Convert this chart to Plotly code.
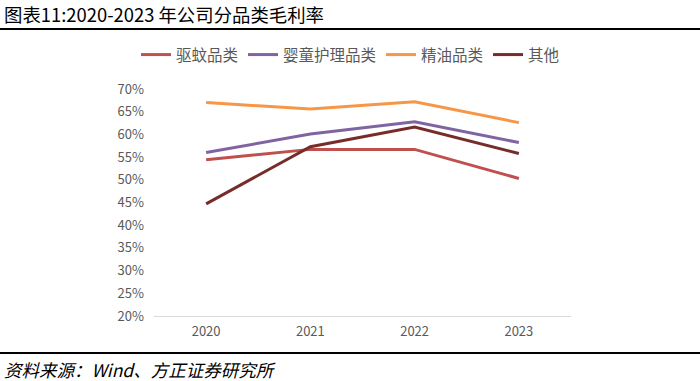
import plotly.graph_objects as go

years = ["2020", "2021", "2022", "2023"]
series_names = ["驱蚊品类", "婴童护理品类", "精油品类", "其他"]
quwen = [54.4, 56.7, 56.7, 50.3]
yingtong = [56.0, 60.1, 62.8, 58.2]
jingyou = [67.0, 65.6, 67.2, 62.6]
qita = [44.7, 57.3, 61.6, 55.8]
y_ticks = [20, 25, 30, 35, 40, 45, 50, 55, 60, 65, 70]
y_tick_labels = [f"{v}%" for v in y_ticks]

colors = ["#C0504D", "#8064A2", "#F79646", "#772C2A"]
values = [quwen, yingtong, jingyou, qita]

fig = go.Figure()
for name, vals, c in zip(series_names, values, colors):
    fig.add_trace(go.Scatter(x=years, y=vals, mode="lines", name=name,
                             line=dict(color=c, width=3)))

W, H = 700, 381
L, R, T, B = 154, 129, 89, 65
plot_w = W - L - R
plot_h = H - T - B
font_cjk = "Noto Sans CJK SC"


def px_x(x):
    return (x - L) / plot_w


def px_y(y):
    return 1 - (y - T) / plot_h


fig.update_layout(
    width=W, height=H,
    margin=dict(l=L, r=R, t=T, b=B, autoexpand=False),
    paper_bgcolor="white", plot_bgcolor="white",
    font=dict(family=font_cjk, color="#595959", size=13),
    showlegend=True,
    legend=dict(orientation="h", x=px_x(136), xanchor="left", y=px_y(55), yanchor="middle",
                font=dict(size=15.5, color="#595959"),
                tracegroupgap=0, bgcolor="rgba(0,0,0,0)"),
    xaxis=dict(type="category", range=[-0.5, 3.5], showgrid=False,
               showline=True, linecolor="#D9D9D9", linewidth=1,
               ticks="", ticklabelstandoff=3, tickfont=dict(size=13, color="#595959")),
    yaxis=dict(range=[20, 70], tickvals=y_ticks, ticktext=y_tick_labels,
               showgrid=False, showline=False, zeroline=False,
               ticks="", ticklen=0, ticklabelstandoff=9,
               tickfont=dict(size=13, color="#595959")),
)

fig.add_annotation(text="图表11:2020-2023 年公司分品类毛利率", xref="paper", yref="paper",
                   x=px_x(2), xanchor="left", y=px_y(14), yanchor="middle", showarrow=False,
                   font=dict(size=18.4, color="#000000", family=font_cjk))
fig.add_annotation(text="<i>资料来源：Wind、方正证券研究所</i>", xref="paper", yref="paper",
                   x=px_x(2), xanchor="left", y=px_y(369), yanchor="middle", showarrow=False,
                   font=dict(size=17.5, color="#000000", family=font_cjk))
fig.add_shape(type="line", xref="paper", yref="paper",
              x0=px_x(0), x1=px_x(W), y0=px_y(29), y1=px_y(29),
              line=dict(color="#000000", width=2))
fig.add_shape(type="line", xref="paper", yref="paper",
              x0=px_x(0), x1=px_x(W), y0=px_y(353), y1=px_y(353),
              line=dict(color="#000000", width=2))

fig.write_html("out.html", config={"displayModeBar": False},
               post_script="document.body.style.margin='0';")
